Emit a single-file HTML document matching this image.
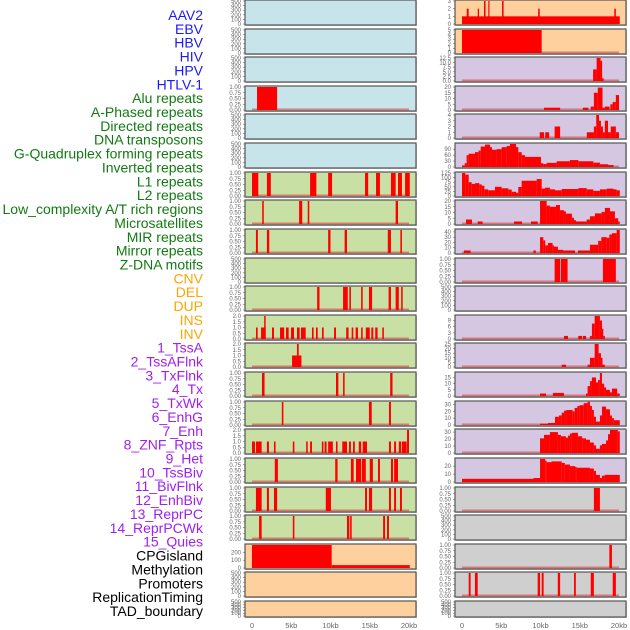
<!DOCTYPE html>
<html><head><meta charset="utf-8"><style>
html,body{margin:0;padding:0;background:#fff;width:630px;height:630px;overflow:hidden}
svg{display:block;font-family:"Liberation Sans",sans-serif}
</style></head><body>
<svg id="chart" width="630" height="630" viewBox="0 0 630 630"></svg>
<script>
// ---- track labels ----
const labels = ["AAV2","EBV","HBV","HIV","HPV","HTLV-1","Alu repeats","A-Phased repeats","Directed repeats","DNA transposons","G-Quadruplex forming repeats","Inverted repeats","L1 repeats","L2 repeats","Low_complexity A/T rich regions","Microsatellites","MIR repeats","Mirror repeats","Z-DNA motifs","CNV","DEL","DUP","INS","INV","1_TssA","2_TssAFlnk","3_TxFlnk","4_Tx","5_TxWk","6_EnhG","7_Enh","8_ZNF_Rpts","9_Het","10_TssBiv","11_BivFlnk","12_EnhBiv","13_ReprPC","14_ReprPCWk","15_Quies","CPGisland","Methylation","Promoters","ReplicationTiming","TAD_boundary"];
const labelGroups = [6,13,5,15,5];
const groupColors = ["#1a1aff","#127a12","#ffa500","#a020f0","#000000"];
// ---- x axis ----
const xTicks = [0,5,10,15,20];
const xTickLabels = ["0","5kb","10kb","15kb","20kb"];
// ---- tick label sets ----
const tEmpty = ["0","100","200","300","400","500"];
const t1 = ["0.00","0.25","0.50","0.75","1.00"];
const t2 = ["0.0","0.5","1.0","1.5","2.0"];
// ---- bar data: [startKb, endKb, value] ----
const L3 = [[0.64,3.2,1]];
const L6 = [[0,0.8,1],[1.9,2.4,1],[7.4,8.2,1],[9.7,10.2,1],[14.4,14.8,1],[15.8,16.3,1],[17.7,18.3,1],[18.6,19.1,1],[19.5,20.1,1]];
const L7 = [[1.3,1.5,1],[6.0,6.4,1],[7.1,7.3,1],[18.3,18.6,1]];
const L8 = [[0.5,0.75,1],[1.9,2.2,1],[9.7,10.0,1],[11.8,12.1,1],[17.3,17.7,1],[18.9,19.1,1]];
const L10 = [[8.3,8.6,1],[11.6,12.2,1],[12.4,12.6,1],[13.9,14.1,1],[14.9,15.3,1],[17.4,17.7,1],[18.3,18.7,1],[19.0,19.2,1]];
const L11 = [[0.51,0.72,1],[1.15,1.74,1],[1.55,1.74,2],[2.55,2.8,1],[3.57,4.1,1],[4.33,4.67,1],[4.97,5.35,1],[5.73,6.07,1],[6.24,6.84,1],[7.64,7.85,1],[8.15,8.37,1],[8.92,9.13,1],[10.45,10.7,1],[12.0,12.3,1],[12.7,12.9,1],[13.2,13.5,1],[13.9,14.1,1],[14.5,15.0,1],[15.2,15.45,1],[15.7,16.0,1],[16.6,16.8,1]];
const L12 = [[5.1,6.3,1],[5.73,5.95,2]];
const L13 = [[1.27,1.6,1],[10.7,11.0,1],[11.6,11.8,1],[17.6,17.9,1]];
const L14 = [[3.8,4.0,1],[14.9,15.25,1],[17.45,17.7,1]];
const L15 = [[0,0.38,1],[0.51,1.23,1],[1.9,2.16,1],[2.8,3.0,1],[5.2,5.4,1],[6.9,7.1,1],[7.4,7.64,1],[8.9,9.1,1],[9.25,9.5,1],[9.7,10.3,1],[10.7,10.9,1],[11.5,12.1,1],[12.36,12.6,1],[12.87,13.1,1],[13.6,13.9,1],[14.1,14.65,1],[17.45,17.7,1],[18.1,18.35,1],[18.7,19.0,1],[19.1,19.7,1],[19.75,20.0,2]];
const L16 = [[2.9,3.3,1],[10.6,10.9,1],[12.6,12.95,1],[13.25,13.9,1],[14.0,14.5,1],[15.0,15.4,1],[16.05,16.3,1],[17.7,17.96,1],[18.1,18.6,1]];
const L17 = [[0.5,1.23,1],[1.9,2.16,1],[2.8,3.2,1],[9.4,10.06,1],[14.4,14.65,1],[14.9,15.3,1],[17.45,17.7,1],[18.1,18.35,1],[18.85,19.1,1]];
const L18 = [[0.9,1.23,1],[5.2,5.4,1],[12.1,12.4,1],[12.5,12.7,1],[16.7,16.95,1],[17.2,17.45,1]];
const L19 = [[0,10.15,295],[10.15,20.1,37]];
const R0 = [[0,20.1,1],[0.6,0.85,2],[2.0,2.17,2],[2.8,3.0,3],[3.35,3.5,3],[5.1,5.3,3],[9.7,9.9,2],[19.4,19.6,2]];
const R1 = [[0,10.15,5]];
const R2 = [[16.7,17.15,6.3],[17.15,17.65,12.5],[17.65,17.85,11],[17.85,18.05,1.5]];
const R3 = [[10.45,12.5,2],[15.4,16.1,2],[16.4,16.8,3],[16.8,17.3,15],[17.3,17.9,19.5],[17.9,18.2,2],[18.2,18.8,3],[18.9,19.2,5],[19.2,19.6,7],[19.6,20.0,13]];
const R4 = [[9.9,10.45,1],[10.6,11.1,1],[11.8,12.5,2],[15.9,16.8,1],[16.8,17.1,2],[17.1,17.45,4],[17.45,17.7,3],[17.7,17.95,2],[17.95,18.2,1],[18.2,18.6,3],[18.6,18.95,1],[18.95,19.6,2],[19.6,20.0,1]];
const R5 = [[0,0.34,8],[0.34,0.59,19],[0.59,0.85,60],[0.85,1.66,67],[1.66,2.12,75],[2.12,2.38,83],[2.38,2.93,103],[2.93,3.57,113],[3.57,3.82,100],[3.82,4.41,87],[4.41,5.05,90],[5.05,5.69,100],[5.69,6.11,106],[6.11,6.88,116],[6.88,7.17,100],[7.17,7.6,75],[7.6,8.02,60],[8.02,10.06,51],[10.06,10.36,19],[10.36,10.78,15],[10.78,12.06,21],[12.06,13.75,29],[13.75,14.82,35],[14.82,16.73,29],[16.73,17.57,22],[17.57,18.64,14],[18.64,19.3,10]];
const R6 = [[0,0.42,125],[0.42,0.85,116],[0.85,1.23,75],[1.23,1.66,66],[1.66,2.21,70],[2.21,2.51,63],[2.51,2.85,56],[2.85,3.35,36],[3.35,4.2,31],[4.2,5.05,50],[5.05,5.9,42],[5.9,6.33,35],[6.33,6.88,23],[6.88,7.17,17],[7.17,7.6,49],[7.6,9.51,83],[9.51,10.15,92],[10.15,10.57,40],[10.57,11.2,45],[11.2,11.85,36],[11.85,12.7,31],[12.7,14.82,38],[14.82,15.88,43],[15.88,16.73,36],[16.73,17.57,28],[17.57,18.43,36],[18.43,19.3,40],[19.3,19.7,36],[19.7,20.1,31]];
const R7 = [[0.51,1.27,3.9],[2.0,2.63,2.2],[6.62,7.64,2.2],[8.79,9.64,2.2],[9.94,10.78,20],[10.78,11.2,16],[11.2,11.97,15],[11.97,12.48,16.5],[12.48,12.99,12],[12.99,13.24,11],[13.24,14.0,9],[14.0,14.26,5.5],[14.26,14.52,3.3],[14.52,15.88,2.2],[15.88,16.3,3.9],[16.3,16.94,6.7],[16.94,17.79,9.2],[17.79,18.2,10.5],[18.2,18.85,14],[18.85,19.48,11],[19.48,19.9,5],[19.9,20.1,2.2]];
const R8 = [[0.25,1.1,4.8],[9.1,9.4,4.8],[9.94,10.36,30],[10.36,10.6,24],[10.6,10.95,14.5],[10.95,11.54,19],[11.54,11.71,14.5],[11.71,12.22,12],[12.22,12.9,6],[12.9,14.4,4.8],[14.77,16.3,4.8],[16.3,17.35,15.7],[17.35,17.75,23],[17.75,18.43,30],[18.43,18.77,29],[18.77,19.1,35],[19.1,19.7,37.5],[19.7,20.1,43.6]];
const R9 = [[11.8,12.5,1],[12.6,13.45,1],[17.95,19.6,1]];
const R11 = [[13.0,13.5,1.5],[14.8,15.3,1.5],[15.4,15.8,1.5],[16.3,16.55,1.5],[16.55,16.9,7.5],[16.9,17.57,11.2],[17.57,17.83,9],[17.83,18.0,5],[18.0,18.2,1.5]];
const R12 = [[12.7,13.25,2.5],[16.0,16.3,2.5],[16.3,16.9,10],[16.9,17.4,25],[17.4,17.7,15],[17.7,17.9,10],[17.9,18.2,2.5]];
const R13 = [[9.94,10.7,2],[11.58,12.99,2.5],[15.8,16.0,2],[16.0,16.3,8],[16.3,16.55,12],[16.55,17.07,15],[17.07,17.33,11],[17.33,17.57,13],[17.57,17.83,18.6],[17.83,18.1,10],[18.1,18.35,7],[18.35,18.85,5],[18.85,19.1,3],[19.1,19.77,6],[19.77,20.1,2]];
const R14 = [[9.94,10.95,2],[10.95,11.85,3],[11.85,12.35,12],[12.35,12.7,14],[12.7,13.0,18],[13.0,13.3,21],[13.3,14.1,22],[14.1,14.35,20],[14.35,14.7,25],[14.7,15.0,28],[15.0,15.5,29],[15.5,16.0,32],[16.0,16.3,34],[16.3,16.55,28],[16.55,16.8,22],[16.8,17.07,12],[17.07,17.57,5],[17.57,17.83,14],[17.83,18.35,27],[18.35,18.85,23],[18.85,19.1,14],[19.1,19.35,10],[19.35,20.1,7]];
const R15 = [[9.94,10.45,21],[10.45,11.2,26],[11.2,12.22,30],[12.22,12.6,26],[12.6,13.24,24],[13.24,13.5,22],[13.5,13.75,25],[13.75,14.0,28],[14.0,14.77,29],[14.77,15.3,24],[15.3,15.8,21],[15.8,16.3,19],[16.3,16.8,15],[16.8,17.07,11],[17.07,17.57,6],[17.57,17.83,11],[17.83,18.35,13],[18.35,18.6,18],[18.6,18.85,27],[18.85,19.85,33],[19.85,20.1,31]];
const R16 = [[0,9.1,4],[9.1,9.94,5],[9.94,10.6,29],[10.6,10.78,27],[10.78,11.4,25],[11.4,12.7,26],[12.7,13.1,24],[13.1,13.75,22],[13.75,14.4,20],[14.4,14.6,19],[14.6,16.3,18],[16.3,16.8,17],[16.8,17.07,14],[17.07,17.57,9],[17.57,17.83,5],[17.83,18.2,8],[18.2,20.1,9]];
const R17 = [[16.8,17.57,1]];
const R19 = [[18.77,19.1,1]];
const R20 = [[0.85,1.1,1],[1.65,2.0,1],[9.64,9.94,1],[10.15,10.4,1],[12.2,12.5,1],[14.27,14.5,1],[16.4,16.8,1],[19.2,19.6,1]];

const BG = {blue:"#c8e4eb",green:"#c8e0a4",orange:"#fdd09e",purple:"#d5c6e2",gray:"#cfcfcf"};
const panels = [
 // left column
 {c:0,r:0,bg:"blue"},{c:0,r:1,bg:"blue"},{c:0,r:2,bg:"blue"},
 {c:0,r:3,bg:"blue",max:1,ticks:t1,bars:L3},
 {c:0,r:4,bg:"blue"},{c:0,r:5,bg:"blue"},
 {c:0,r:6,bg:"green",max:1,ticks:t1,bars:L6},
 {c:0,r:7,bg:"green",max:1,ticks:t1,bars:L7},
 {c:0,r:8,bg:"green",max:1,ticks:t1,bars:L8},
 {c:0,r:9,bg:"green"},
 {c:0,r:10,bg:"green",max:1,ticks:t1,bars:L10},
 {c:0,r:11,bg:"green",max:2,ticks:t2,bars:L11},
 {c:0,r:12,bg:"green",max:2,ticks:t2,bars:L12},
 {c:0,r:13,bg:"green",max:1,ticks:t1,bars:L13},
 {c:0,r:14,bg:"green",max:1,ticks:t1,bars:L14},
 {c:0,r:15,bg:"green",max:2,ticks:t2,bars:L15},
 {c:0,r:16,bg:"green",max:1,ticks:t1,bars:L16},
 {c:0,r:17,bg:"green",max:1,ticks:t1,bars:L17},
 {c:0,r:18,bg:"green",max:1,ticks:t1,bars:L18},
 {c:0,r:19,bg:"orange",max:295,ticks:["0","100","200"],bars:L19,nobase:true},
 {c:0,r:20,bg:"orange"},{c:0,r:21,bg:"orange"},
 // right column
 {c:1,r:0,bg:"orange",max:3,ticks:["0","1","2","3"],bars:R0},
 {c:1,r:1,bg:"orange",max:5,ticks:["0","1","2","3","4","5"],bars:R1},
 {c:1,r:2,bg:"purple",max:12.5,ticks:["0.0","2.5","5.0","7.5","10.0","12.5"],bars:R2},
 {c:1,r:3,bg:"purple",max:20,ticks:["0","5","10","15","20"],bars:R3},
 {c:1,r:4,bg:"purple",max:4,ticks:["0","1","2","3","4"],bars:R4},
 {c:1,r:5,bg:"purple",max:116,ticks:["0","30","60","90"],bars:R5},
 {c:1,r:6,bg:"purple",max:125,ticks:["0","25","50","75","100","125"],bars:R6},
 {c:1,r:7,bg:"purple",max:20,ticks:["0","5","10","15","20"],bars:R7},
 {c:1,r:8,bg:"purple",max:43.6,ticks:["0","10","20","30","40"],bars:R8},
 {c:1,r:9,bg:"purple",max:1,ticks:t1,bars:R9},
 {c:1,r:10,bg:"purple"},
 {c:1,r:11,bg:"purple",max:11.2,ticks:["0","3","6","9"],bars:R11},
 {c:1,r:12,bg:"purple",max:25,ticks:["0","5","10","15","20","25"],bars:R12},
 {c:1,r:13,bg:"purple",max:18.6,ticks:["0","5","10","15"],bars:R13},
 {c:1,r:14,bg:"purple",max:33.7,ticks:["0","10","20","30"],bars:R14},
 {c:1,r:15,bg:"purple",max:33,ticks:["0","10","20","30"],bars:R15},
 {c:1,r:16,bg:"purple",max:29,ticks:["0","10","20"],bars:R16},
 {c:1,r:17,bg:"gray",max:1,ticks:t1,bars:R17},
 {c:1,r:18,bg:"gray"},
 {c:1,r:19,bg:"gray",max:1,ticks:t1,bars:R19},
 {c:1,r:20,bg:"gray",max:1,ticks:t1,bars:R20},
 {c:1,r:21,bg:"gray"}
];

const NS = "http://www.w3.org/2000/svg";
const svg = document.getElementById("chart");
function mk(tag, attrs, parent){
  const e = document.createElementNS(NS, tag);
  for (const k in attrs) e.setAttribute(k, attrs[k]);
  (parent||svg).appendChild(e);
  return e;
}
const colLeft = [245, 455];
const PW = 171;
function rowTop(r){ return Math.round(r*28.62); }
function rowH(r){ return r === 21 ? 16 : 25; }
function xScale(c, kb){ return colLeft[c] + 7 + kb * 7.85; }

// labels
let li = 0;
labelGroups.forEach((n, g) => {
  for (let k = 0; k < n; k++, li++) {
    const t = mk("text", {x:203, y:20 + li*13.86, "text-anchor":"end", "font-size":"14", fill:groupColors[g]});
    t.textContent = labels[li];
    
    
  }
});

// panels
panels.forEach(p => {
  const top = rowTop(p.r), h = rowH(p.r), x0 = colLeft[p.c];
  const g = mk("g", {});
  
  
  mk("rect", {x:x0+1, y:top+1, width:PW, height:h, fill:"#a0a0a0", opacity:"0.6"}, g);
  mk("rect", {x:x0, y:top, width:PW, height:h, fill:BG[p.bg]}, g);
  const max = p.max || 500;
  const ticks = p.ticks || tEmpty;
  const yb = top + h - 1, ih = h - 2;
  const yS = v => yb - v / max * ih;
  // ticks
  const step = p.max ? null : 100;
  ticks.forEach((lab, i) => {
    const v = p.max ? parseFloat(lab) : i * step;
    const t = mk("text", {x:x0-4, y:yS(v)+2, "text-anchor":"end", "font-size":"6", fill:"#666"}, g);
    t.textContent = lab;
    
    
    mk("line", {x1:x0-2, x2:x0, y1:yS(v), y2:yS(v), stroke:"#666", "stroke-width":"0.6"}, g);
  });
  if (p.bars) {
    if (!p.nobase) {
      const b = mk("rect", {x:xScale(p.c,0), y:yb-1.5, width:xScale(p.c,20)-xScale(p.c,0), height:1.8, fill:"#e05050", opacity:"0.7"}, g);
      
      
    }
    p.bars.forEach(d => {
      const xa = xScale(p.c, d[0]), xb = xScale(p.c, d[1]);
      const y = yS(d[2]);
      const r = mk("rect", {x:xa, y:y, width:Math.max(1.2, xb-xa), height:yb-y, fill:"#ff0000"}, g);
      
      
    });
  }
  mk("rect", {x:x0, y:top, width:PW, height:h, fill:"none", stroke:"#555", "stroke-width":"1.2"}, g);
});

// x axes
[0,1].forEach(c => {
  xTicks.forEach((v, i) => {
    const t = mk("text", {x:xScale(c, v), y:628, "text-anchor":"middle", "font-size":"7.5", fill:"#666"});
    t.textContent = xTickLabels[i];
    
    
  });
});
</script>
</body></html>
